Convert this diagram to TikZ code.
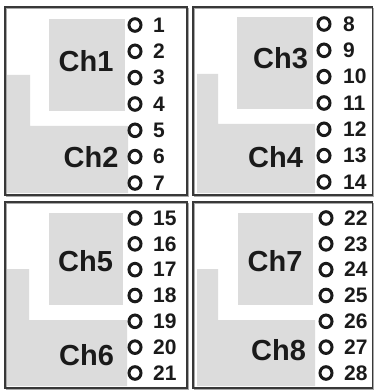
\documentclass[tikz,border=0pt]{standalone}
\usepackage{fontspec}
\setmainfont{Liberation Sans}
\usetikzlibrary{shapes.geometric}
\definecolor{ink}{HTML}{1A1A1A}
\definecolor{padgray}{HTML}{DCDCDC}
\definecolor{framedark}{HTML}{383838}
\definecolor{framelight}{HTML}{A8A8A8}
\begin{document}
\begin{tikzpicture}[x=1pt,y=-1pt,
  frame/.style={draw=framedark,line width=1.4pt},
  frameshadow/.style={draw=framelight,line width=1pt},
  pad/.style={fill=padgray},
  pin/.style={shape=ellipse,draw=ink,line width=3pt,minimum width=12pt,minimum height=12.6pt,inner sep=0pt},
  num/.style={anchor=west,inner sep=0pt,text=ink,font=\bfseries\fontsize{21}{21}\selectfont},
  chlabel/.style={inner sep=0pt,text=ink,font=\bfseries\fontsize{29}{29}\selectfont}]
\useasboundingbox (0,0) rectangle (374,390);
\fill[white] (0,0) rectangle (374,390);
% gray pads
\fill[pad] (49,19) rectangle (125,111);
\fill[pad] (7,75) -- (30,75) -- (30,126) -- (128,126) -- (128,193) -- (7,193) -- cycle;
\fill[pad] (237,17) rectangle (313,109);
\fill[pad] (197,74) -- (218,74) -- (218,124) -- (315,124) -- (315,193) -- (197,193) -- cycle;
\fill[pad] (49,213) rectangle (123,305);
\fill[pad] (7,269) -- (29,269) -- (29,320) -- (127,320) -- (127,386) -- (7,386) -- cycle;
\fill[pad] (238,213) rectangle (313,305);
\fill[pad] (197,269) -- (218,269) -- (218,320) -- (315,320) -- (315,386) -- (197,386) -- cycle;
% frames
\foreach \xa/\ya/\xb/\yb in {5/7/187/195, 193/7/372.5/195, 5/202/187/388, 193/202/372.5/388}{
  \draw[frameshadow] (\xa+1.6,\ya+1.6) rectangle (\xb+1.2,\yb+1.2);
  \draw[frame] (\xa,\ya) rectangle (\xb,\yb);
}
% pins and numbers
\foreach \cx/\ny/\sp/\nx/\first in {135/25/26.33/153/1, 324/24/26.33/343/8, 135/218/25.83/153/15, 326/218/25.83/344/22}{
  \foreach \k in {0,...,6}{
    \pgfmathtruncatemacro\n{\first+\k}
    \node[pin] (pin\n) at (\cx,{\ny+\sp*\k}) {};
    \node[num] (num\n) at (\nx,{\ny+\sp*\k}) {\n};
  }
}
% channel labels
\node[chlabel] (ch1) at (86,61) {Ch1};
\node[chlabel] (ch2) at (91,157.5) {Ch2};
\node[chlabel] (ch3) at (280.5,58.5) {Ch3};
\node[chlabel] (ch4) at (275.5,157.5) {Ch4};
\node[chlabel] (ch5) at (85.5,261) {Ch5};
\node[chlabel] (ch6) at (86.5,355) {Ch6};
\node[chlabel] (ch7) at (275,261) {Ch7};
\node[chlabel] (ch8) at (278.5,350) {Ch8};
\end{tikzpicture}
\end{document}
